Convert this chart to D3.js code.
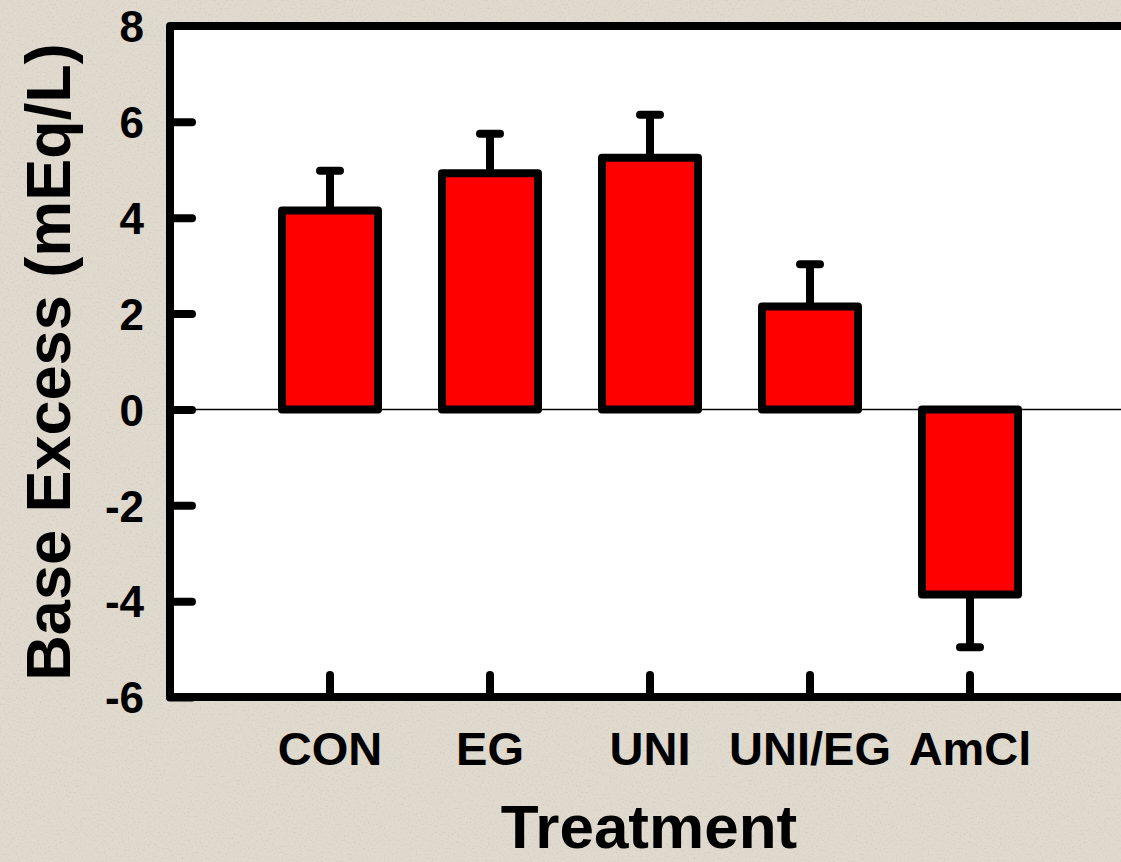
<!DOCTYPE html>
<html>
<head>
<meta charset="utf-8">
<script src="https://cdn.jsdelivr.net/npm/d3@7"></script>
<style>
  html, body { margin: 0; padding: 0; background: #e0d9ce; }
  svg { display: block; }
  text { font-family: "Liberation Sans", Arial, Helvetica, sans-serif; font-weight: bold; fill: #000; }
</style>
</head>
<body>
<script>
// Base excess by treatment group (mean ± SEM, mEq/L)
const categories = ["CON", "EG", "UNI", "UNI/EG", "AmCl"];
const means = [4.15, 4.93, 5.25, 2.15, -3.86];
const errors = [0.83, 0.82, 0.90, 0.88, 1.10];
const yTicks = [-6, -4, -2, 0, 2, 4, 6, 8];
const yLabel = "Base Excess (mEq/L)";
const xLabel = "Treatment";

const W = 1121, H = 862;
const plot = { left: 170, top: 26, right: 1140, bottom: 697 };

const svg = d3.select("body").append("svg")
  .attr("width", W).attr("height", H);

// speckled paper background
const defs = svg.append("defs");
const f = defs.append("filter").attr("id", "speckle")
  .attr("x", 0).attr("y", 0).attr("width", "100%").attr("height", "100%");
f.append("feTurbulence").attr("type", "fractalNoise")
  .attr("baseFrequency", 0.5).attr("numOctaves", 2).attr("seed", 7).attr("result", "n");
f.append("feColorMatrix").attr("in", "n").attr("type", "matrix")
  .attr("values", "0 0 0 0 0.55  0 0 0 0 0.52  0 0 0 0 0.47  -2.6 0 0 0 1.25");
svg.append("rect").attr("width", W).attr("height", H).attr("fill", "#e0d9ce");
svg.append("rect").attr("width", W).attr("height", H).attr("filter", "url(#speckle)").attr("opacity", 0.5);

const x = d3.scaleBand()
  .domain(categories)
  .range([250, 1050])
  .paddingInner(0.4)
  .paddingOuter(0.2);

const y = d3.scaleLinear()
  .domain([-6, 8])
  .range([plot.bottom, plot.top]);

// plot panel
svg.append("rect")
  .attr("x", plot.left).attr("y", plot.top)
  .attr("width", plot.right - plot.left).attr("height", plot.bottom - plot.top)
  .attr("fill", "#fff");

// zero reference line
svg.append("line")
  .attr("x1", plot.left).attr("x2", W)
  .attr("y1", y(0)).attr("y2", y(0))
  .attr("stroke", "#000").attr("stroke-width", 1.5);

const data = categories.map((c, i) => ({ c, m: means[i], e: errors[i] }));

// error bars (drawn beneath the bars, extending away from zero)
const eb = svg.append("g").attr("stroke", "#000").attr("stroke-width", 8).attr("stroke-linecap", "round");
data.forEach(d => {
  const cx = x(d.c) + x.bandwidth() / 2;
  const tip = d.m >= 0 ? d.m + d.e : d.m - d.e;
  eb.append("line").attr("x1", cx).attr("x2", cx).attr("y1", y(d.m)).attr("y2", y(tip)).attr("stroke-linecap", "butt");
  eb.append("line").attr("x1", cx - 10).attr("x2", cx + 10).attr("y1", y(tip)).attr("y2", y(tip));
});

// bars
svg.append("g").selectAll("rect").data(data).join("rect")
  .attr("x", d => x(d.c))
  .attr("width", x.bandwidth())
  .attr("y", d => y(Math.max(0, d.m)))
  .attr("height", d => Math.abs(y(d.m) - y(0)))
  .attr("fill", "#ff0000")
  .attr("stroke", "#000")
  .attr("stroke-width", 8)
  .attr("stroke-linejoin", "round");

// y axis (plain hyphen for negative numbers)
const yAxis = svg.append("g").attr("transform", `translate(${plot.left},0)`)
  .call(d3.axisLeft(y).tickValues(yTicks).tickSize(0).tickPadding(26).tickFormat(d => String(d)));
yAxis.select(".domain").remove();
yAxis.selectAll("text").attr("font-size", 44).attr("dy", "0.36em");
yAxis.selectAll(".tick").filter(d => d !== 8).append("line")
  .attr("x1", 0).attr("x2", 22).attr("stroke", "#000").attr("stroke-width", 8).attr("stroke-linecap", "round");

// x axis
const xAxis = svg.append("g").attr("transform", `translate(0,${plot.bottom})`)
  .call(d3.axisBottom(x).tickSize(0).tickPadding(35));
xAxis.select(".domain").remove();
xAxis.selectAll("text").attr("font-size", 47).attr("dy", "0.71em");
xAxis.selectAll(".tick").append("line")
  .attr("y1", 0).attr("y2", -22).attr("stroke", "#000").attr("stroke-width", 8).attr("stroke-linecap", "round");

// frame: left, bottom and top edges
svg.append("path")
  .attr("d", `M${W + 10},${plot.top}H${plot.left}V${plot.bottom}H${W + 10}`)
  .attr("fill", "none").attr("stroke", "#000").attr("stroke-width", 8).attr("stroke-linejoin", "round");

// axis titles
svg.append("text")
  .attr("x", 649).attr("y", 848)
  .attr("text-anchor", "middle").attr("font-size", 62)
  .text(xLabel);

svg.append("text")
  .attr("transform", `translate(70,362) rotate(-90)`)
  .attr("text-anchor", "middle").attr("font-size", 63)
  .text(yLabel);
</script>
</body>
</html>
